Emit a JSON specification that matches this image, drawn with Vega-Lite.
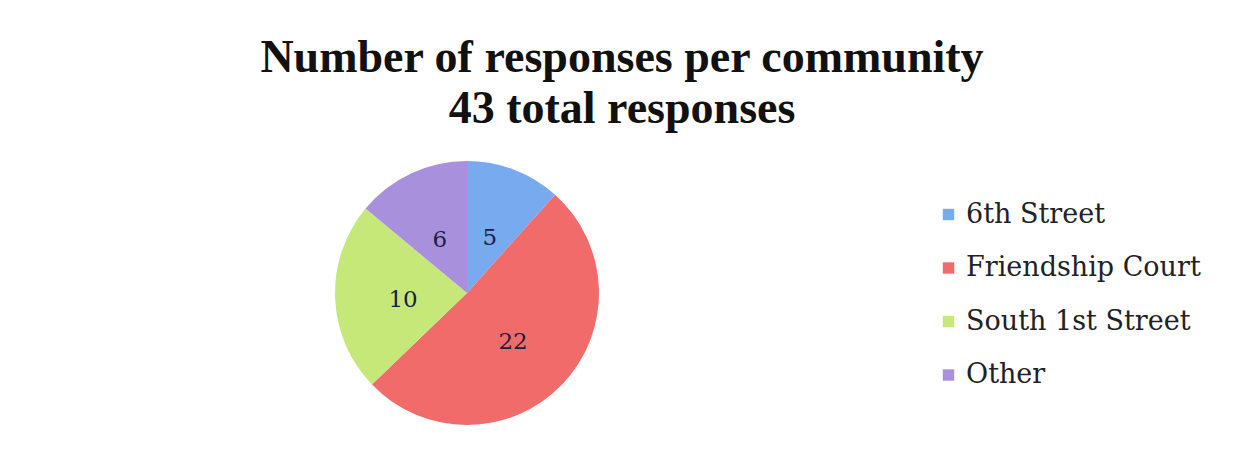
{
  "$schema": "https://vega.github.io/schema/vega-lite/v6.json",
  "autosize": "none",
  "width": 264,
  "height": 264,
  "padding": {"left": 335, "top": 161, "right": 637, "bottom": 29},
  "background": "white",
  "config": {"view": {"stroke": null}},
  "title": {
    "text": ["Number of responses per community", "43 total responses"],
    "font": "Liberation Serif",
    "fontSize": 46,
    "fontWeight": "bold",
    "color": "#111111",
    "lineHeight": 51,
    "anchor": "middle",
    "frame": "group",
    "dx": 155,
    "offset": 28
  },
  "data": {
    "values": [
      {"community": "6th Street", "responses": 5, "idx": 1},
      {"community": "Friendship Court", "responses": 22, "idx": 2},
      {"community": "South 1st Street", "responses": 10, "idx": 3},
      {"community": "Other", "responses": 6, "idx": 4}
    ]
  },
  "encoding": {
    "theta": {"field": "responses", "type": "quantitative", "stack": true},
    "order": {"field": "idx", "type": "quantitative"}
  },
  "layer": [
    {
      "mark": {"type": "arc", "outerRadius": 132},
      "encoding": {
        "color": {
          "field": "community",
          "type": "nominal",
          "scale": {
            "domain": ["6th Street", "Friendship Court", "South 1st Street", "Other"],
            "range": ["#78aaf0", "#f26b6b", "#c6e878", "#a890dd"]
          },
          "legend": {
            "title": null,
            "orient": "none",
            "legendX": 600,
            "legendY": 40,
            "symbolType": "square",
            "symbolSize": 130,
            "labelFont": "DejaVu Serif",
            "labelFontSize": 27,
            "labelColor": "#222222",
            "labelOffset": 4,
            "labelLimit": 0,
            "rowPadding": 25.5
          }
        }
      }
    },
    {
      "mark": {"type": "text", "radius": 64, "dy": 5, "font": "DejaVu Serif", "fontSize": 23, "fill": "#1e1e3c"},
      "encoding": {
        "detail": {"field": "community", "type": "nominal"},
        "text": {"field": "responses", "type": "quantitative"}
      }
    }
  ]
}
